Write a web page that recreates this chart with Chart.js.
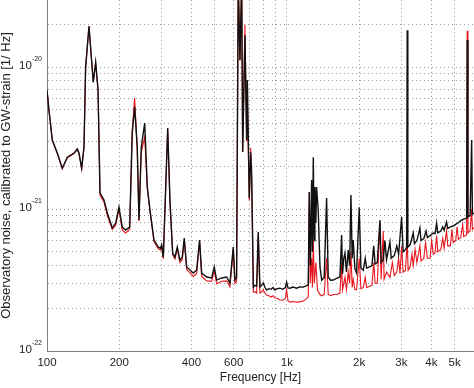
<!DOCTYPE html>
<html><head><meta charset="utf-8">
<script src="https://cdn.jsdelivr.net/npm/chart.js@4/dist/chart.umd.min.js"></script>
<style>html,body{margin:0;padding:0;background:#fff;}canvas{display:block;}</style>
</head><body>
<canvas id="c" width="474" height="388"></canvas>
<script>
// Frequencies in Hz, noise in units of 1e-21 (1/sqrt(Hz))
const freqBlack = [100,101.9,105.2,110.4,115.8,121.5,129.6,133.7,135.9,139.5,142.6,144.9,149.6,155.9,159.5,163.2,166.3,172.8,178.4,187.1,193.3,199.5,205.9,212.7,221.1,226.6,231.9,237.8,241.7,247.1,255.4,261.8,268.7,279.2,290.9,297,300.5,305.3,312.4,318.4,325.4,334,341.4,349.1,358.1,366.2,373.3,382,394.3,407.1,420.5,432.5,441.2,462.8,485.7,497.8,509.3,534.5,560.9,578.7,597.4,606.9,616.8,626.7,637,647.6,653.9,668.3,679.3,683.9,696.6,706.2,712.7,724.4,735,747.6,759.2,771.6,784,796.5,810,823,840,860,875,891.3,910,934.9,960,985,997,1010,1029,1060,1097,1130,1169,1200,1227,1239,1253,1267,1277,1288,1298,1308,1320,1329,1350,1373,1396,1430,1463,1486,1520,1560,1610,1663,1690,1705,1725,1745,1770,1800,1825,1848,1870,1889,1920,1951,2001,2034,2080,2120,2148,2200,2260,2300,2330,2380,2441,2470,2519,2560,2600,2687,2720,2800,2870,2920,3006,3050,3120,3153,3171,3190,3260,3360,3400,3480,3583,3620,3720,3800,3850,3950,4073,4140,4205,4250,4380,4460,4520,4625,4680,4800,4932,5050,5180,5300,5450,5609,5640,5680,5800,5885,5930,6020];
const noiseBlack = [6.9,4.98,3.06,2.48,1.94,2.32,2.48,2.65,2.48,1.94,2.73,10,19.4,7.84,10.8,6.9,1.30,1.16,0.937,0.735,0.797,1.03,0.747,0.711,0.747,3.43,5.23,2.73,0.837,2.73,4.03,1.43,0.984,0.605,0.54,0.53,0.56,0.459,1.43,3.72,1.16,0.49,0.459,0.54,0.437,0.459,0.625,0.391,0.372,0.354,0.372,0.605,0.354,0.332,0.327,0.391,0.316,0.327,0.332,0.301,0.54,0.316,0.332,40,11.2,40,2.52,16.8,3.06,8.1,1.195,2.5,1.79,0.282,0.29,0.287,0.689,0.282,0.29,0.301,0.28,0.269,0.275,0.272,0.28,0.269,0.275,0.277,0.272,0.28,0.306,0.278,0.277,0.282,0.277,0.283,0.282,0.288,0.292,1.32,0.40,1.60,0.5,2.32,0.6,1.43,0.8,1.43,0.984,0.391,0.316,0.33,1.195,0.332,0.315,0.316,0.325,0.332,0.656,0.35,0.45,0.49,0.36,0.514,0.4,1.255,0.45,0.605,0.38,0.354,1.03,0.384,0.37,0.45,0.384,0.39,0.4,0.55,0.41,0.42,0.837,0.42,0.437,0.6,0.44,0.586,0.45,0.47,0.55,0.48,0.878,0.5,0.52,0.54,18.2,0.54,0.56,0.678,0.57,0.6,0.735,0.6,0.62,0.7,0.63,0.65,0.678,0.67,0.797,0.68,0.7,0.75,0.71,0.81,0.73,0.75,0.759,0.78,0.8,0.83,0.85,0.864,15.5,0.88,0.9,3.06,0.92,0.937];
const freqRed = [100,101.9,105.2,110.4,115.8,121.5,129.6,133.7,135.9,139.5,142.6,144.9,149.6,155.9,159.5,163.2,166.3,172.8,178.4,187.1,193.3,199.5,205.9,212.7,221.1,226.6,231.9,237.8,241.7,247.1,255.4,261.8,268.7,279.2,290.9,297,300.5,305.3,312.4,318.4,325.4,334,341.4,349.1,358.1,366.2,373.3,382,394.3,407.1,420.5,432.5,441.2,462.8,485.7,497.8,509.3,534.5,560.9,578.7,597.4,606.9,616.8,626.7,637,647.6,653.9,668.3,679.3,683.9,696.6,706.2,712.7,724.4,735,747.6,759.2,771.6,784,796.5,810,823,840,860,875,891.3,910,934.9,960,985,997,1010,1029,1060,1097,1130,1169,1200,1227,1239,1250,1267,1277,1288,1300,1320,1340,1373,1396,1430,1463,1486,1520,1560,1610,1663,1690,1705,1745,1770,1800,1825,1848,1870,1889,1920,1951,2001,2034,2080,2120,2148,2200,2260,2300,2330,2380,2441,2470,2519,2540,2600,2687,2750,2800,2870,2920,2960,3006,3050,3120,3171,3200,3260,3320,3360,3420,3480,3583,3620,3720,3780,3850,3950,4010,4073,4140,4205,4250,4380,4460,4520,4625,4680,4800,4870,4932,5050,5120,5180,5300,5400,5450,5609,5640,5680,5800,5885,5930,6020];
const noiseRed = [6.9,4.98,3.06,2.45,1.92,2.3,2.46,2.63,2.46,1.92,2.7,10,19.4,7.84,10.8,6.9,1.25,1.12,0.9,0.72,0.77,1.0,0.71,0.678,0.72,3.6,6.05,2.6,0.82,2.5,3.21,1.40,0.96,0.59,0.525,0.515,0.545,0.445,1.40,3.6,1.12,0.475,0.445,0.525,0.42,0.44,0.6,0.375,0.355,0.335,0.352,0.59,0.335,0.312,0.31,0.37,0.298,0.31,0.312,0.283,0.52,0.3,0.31,40,11.2,40,2.52,19.8,3.0,6.0,1.15,2.69,1.6,0.26,0.262,0.256,0.66,0.256,0.26,0.27,0.255,0.248,0.245,0.24,0.245,0.236,0.235,0.229,0.228,0.235,0.27,0.226,0.221,0.223,0.221,0.222,0.225,0.232,0.24,1.32,0.3,0.45,0.28,0.6,0.3,0.42,0.27,0.25,0.245,0.25,0.45,0.25,0.245,0.25,0.25,0.255,0.42,0.27,0.33,0.27,0.36,0.3,0.5,0.28,0.32,0.27,0.27,0.45,0.275,0.28,0.33,0.28,0.285,0.29,0.42,0.3,0.3,0.8,0.32,0.7,0.32,0.36,0.33,0.42,0.34,0.36,0.45,0.35,0.55,0.36,0.37,0.6,0.37,0.39,0.48,0.4,0.52,0.42,0.55,0.43,0.45,0.58,0.45,0.45,0.6,0.48,0.49,0.65,0.5,0.52,0.62,0.53,0.7,0.55,0.55,0.72,0.58,0.6,0.75,0.61,0.63,0.78,0.64,0.66,18,0.68,0.7,1.0,0.72,0.74];

const xGridValues = [100,200,300,400,500,600,700,800,900,1000,2000,3000,4000,5000];
const xLabelValues = [100,200,400,600,1000,2000,3000,4000,5000];
const xLabelTexts = ['100','200','400','600','1k','2k','3k','4k','5k'];
const yGridValues = [0.1,0.2,0.3,0.4,0.5,0.6,0.7,0.8,0.9,1,2,3,4,5,6,7,8,9,10,20];
const yLabelValues = [0.1,1,10];
const yLabelBase = ['10','10','10'];
const yLabelExp = ['-22','-21','-20'];

function pts(fs, vs){ return fs.map((f,i)=>({x:f,y:vs[i]})); }
function findLabel(vals, texts, v){
  for (let i=0;i<vals.length;i++){ if (Math.abs(vals[i]-v) < 1e-9*Math.max(1,v)) return texts[i]; }
  return '';
}
const FONT = "'Liberation Sans', Arial, Helvetica, sans-serif";
const TEXT = '#222';
const gridStyle = {color:'#9a9a9a', lineWidth:1, drawTicks:false, tickLength:0};
const borderStyle = {display:true, color:'#808080', width:1, dash:[1,3]};

// y tick labels drawn as base + superscript exponent
const yPowerLabels = {
  id:'yPowerLabels',
  afterDraw(chart){
    const s = chart.scales.y, ctx = chart.ctx;
    const right = s.right - 5;
    ctx.save();
    ctx.fillStyle = TEXT;
    ctx.textAlign = 'left';
    ctx.textBaseline = 'alphabetic';
    yLabelValues.forEach((v,i)=>{
      const y = s.getPixelForValue(v);
      ctx.font = '7px ' + FONT;
      const ew = ctx.measureText(yLabelExp[i]).width;
      ctx.font = '11.5px ' + FONT;
      const bw = ctx.measureText(yLabelBase[i]).width;
      const x0 = right - ew - bw;
      ctx.fillText(yLabelBase[i], x0, y + 1.8);
      ctx.font = '7px ' + FONT;
      ctx.fillText(yLabelExp[i], x0 + bw, y - 5.8);
    });
    ctx.restore();
  }
};

new Chart(document.getElementById('c'), {
  type:'line',
  data:{datasets:[
    {label:'black', data:pts(freqBlack,noiseBlack), borderColor:'#111111', borderWidth:1.4, pointRadius:0, tension:0, fill:false},
    {label:'red', data:pts(freqRed,noiseRed), borderColor:'#e8141c', borderWidth:1.1, pointRadius:0, tension:0, fill:false}
  ]},
  plugins:[yPowerLabels],
  options:{
    responsive:false, animation:false, devicePixelRatio:1,
    layout:{padding:0},
    plugins:{legend:{display:false}, tooltip:{enabled:false}},
    scales:{
      x:{type:'logarithmic', min:100, max:6020,
        grid:gridStyle, border:borderStyle,
        afterBuildTicks:(s)=>{ s.ticks = xGridValues.map(v=>({value:v})); },
        afterFit:(s)=>{ s.height = 37; s.paddingLeft=0; s.paddingRight=0; },
        ticks:{autoSkip:false, maxRotation:0, padding:5, color:TEXT, font:{family:FONT,size:11.5},
          callback:(v)=>findLabel(xLabelValues,xLabelTexts,v)},
        title:{display:true, text:'Frequency [Hz]', color:TEXT, font:{family:FONT,size:12}, padding:{top:0,bottom:3}}
      },
      y:{type:'logarithmic', min:0.1, max:29.7,
        grid:gridStyle, border:borderStyle,
        afterBuildTicks:(s)=>{ s.ticks = yGridValues.map(v=>({value:v})); },
        afterFit:(s)=>{ s.width = 47; s.paddingTop=0; s.paddingBottom=0; },
        ticks:{autoSkip:false, padding:9, font:{family:FONT,size:11.5},
          callback:()=>''},
        title:{display:true, text:'Observatory noise, calibrated to GW-strain [1/ Hz]', color:TEXT, font:{family:FONT,size:13,lineHeight:1}, padding:{top:0,bottom:0}}
      }
    }
  }
});
</script>
</body></html>
